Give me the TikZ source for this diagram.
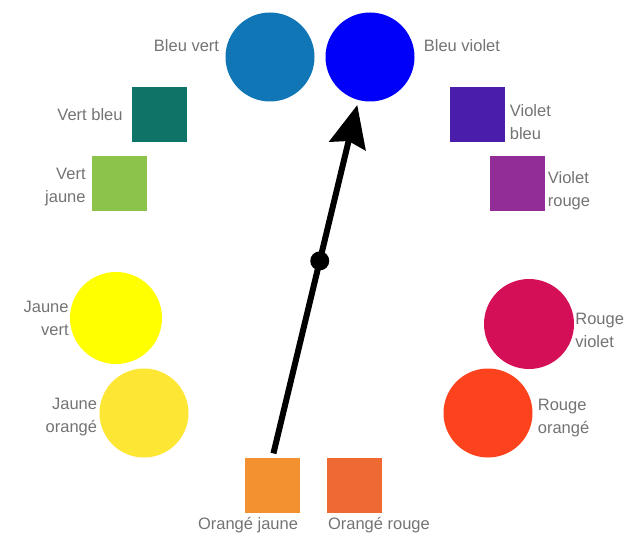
\documentclass[tikz,border=0pt]{standalone}
\usepackage{fontspec}
\setmainfont{Liberation Sans}
\usetikzlibrary{positioning, arrows.meta}

\definecolor{bleuvert}{HTML}{1176B6}
\definecolor{bleuviolet}{HTML}{0000FA}
\definecolor{vertbleu}{HTML}{0E7467}
\definecolor{vertjaune}{HTML}{8CC44B}
\definecolor{violetbleu}{HTML}{4A1EAB}
\definecolor{violetrouge}{HTML}{922C97}
\definecolor{jaunevert}{HTML}{FFFF00}
\definecolor{jauneorange}{HTML}{FDE634}
\definecolor{rougeviolet}{HTML}{D50F57}
\definecolor{rougeorange}{HTML}{FD431E}
\definecolor{orangejaune}{HTML}{F39131}
\definecolor{orangerouge}{HTML}{EE6A32}

\begin{document}
\begin{tikzpicture}[
        x=1pt, y=-1pt,
        disc/.style={circle, inner sep=0pt, minimum size=89pt},
        patch/.style={rectangle, inner sep=0pt, minimum size=55pt},
        lbl/.style={text=black!55, font=\fontsize{16.5}{23}\selectfont, inner sep=0pt},
        pivot/.style={circle, fill=black, inner sep=0pt, minimum size=19pt},
        arrow/.style={-{Stealth[length=42pt, width=37pt, inset=5pt]}, line width=6pt}
    ]
    \useasboundingbox (0,0) rectangle (627,535);

    \node[disc, fill=bleuvert] (BleuVert) at (270,57) {};
    \node[disc, fill=bleuviolet] (BleuViolet) at (370,57) {};
    \node[patch, fill=vertbleu] (VertBleu) at (159.5,114.5) {};
    \node[patch, fill=vertjaune] (VertJaune) at (119.5,183.5) {};
    \node[patch, fill=violetbleu] (VioletBleu) at (477,114.5) {};
    \node[patch, fill=violetrouge] (VioletRouge) at (517,183.5) {};
    \node[disc, fill=jaunevert, minimum size=92pt] (JauneVert) at (116,318) {};
    \node[disc, fill=jauneorange] (JauneOrange) at (144,413) {};
    \node[disc, fill=rougeviolet, minimum size=90pt] (RougeViolet) at (529,324) {};
    \node[disc, fill=rougeorange] (RougeOrange) at (488,413) {};
    \node[patch, fill=orangejaune] (OrJaune) at (272.5,485) {};
    \node[patch, fill=orangerouge] (OrRouge) at (354.5,485) {};

    \node[lbl, left=6pt of BleuVert, yshift=11pt] (BleuVertTxt) {Bleu vert};
    \node[lbl, right=9pt of BleuViolet, yshift=11pt] (BleuVioletTxt) {Bleu violet};
    \node[lbl, left=9pt of VertBleu] (VertBleuTxt) {Vert bleu};
    \node[lbl, align=right, left=6pt of VertJaune, yshift=-4pt] (VertJauneTxt) {Vert\\jaune};
    \node[lbl, align=left, right=5pt of VioletBleu, yshift=-8pt] (VioletBleuTxt) {Violet\\bleu};
    \node[lbl, align=left, right=3pt of VioletRouge, yshift=-7pt] (VioletRougeTxt) {Violet\\rouge};
    \node[lbl, align=right, left=1pt of JauneVert] (JauneVertTxt) {Jaune\\vert};
    \node[lbl, align=right, left=2pt of JauneOrange, yshift=-4pt] (JauneOrangeTxt) {Jaune\\orangé};
    \node[lbl, align=left, right=1pt of RougeViolet, yshift=-6pt] (RougeVioletTxt) {Rouge\\violet};
    \node[lbl, align=left, right=5pt of RougeOrange, yshift=-5pt] (RougeOrangeTxt) {Rouge\\orangé};
    \node[lbl, below left=4pt and 2pt of OrJaune.south east] (OrJauneTxt) {Orangé jaune};
    \node[lbl, below right=4pt and 1pt of OrRouge.south west] (OrRougeTxt) {Orangé rouge};

    \draw[arrow, shorten <=4pt, shorten >=5pt] (OrJaune.north) -- node[pivot, pos=0.55] (Pivot) {} (BleuViolet.255);

\end{tikzpicture}
\end{document}
